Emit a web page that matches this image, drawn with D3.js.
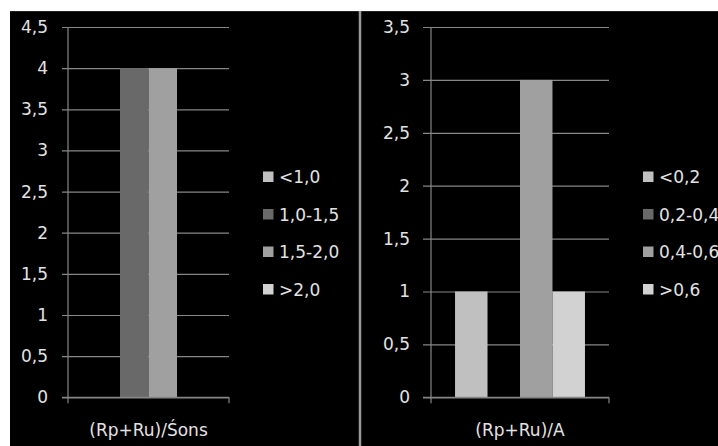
<!DOCTYPE html>
<html>
<head>
<meta charset="utf-8">
<script src="https://cdn.jsdelivr.net/npm/d3@7"></script>
<style>
  html, body { margin: 0; padding: 0; background: #fff; }
  svg { display: block; }
  text { font-family: "DejaVu Sans", sans-serif; fill: #e2e2e2; }
</style>
</head>
<body>
<svg id="chart" width="718" height="446"></svg>
<script>
// ---- data ----
const categoryLeft = ["(Rp+Ru)/Śons"];
const seriesLeft = ["<1,0", "1,0-1,5", "1,5-2,0", ">2,0"];
const valuesLeft = [0, 4, 4, 0];
const ticksLeft = [0, 0.5, 1, 1.5, 2, 2.5, 3, 3.5, 4, 4.5];

const categoryRight = ["(Rp+Ru)/A"];
const seriesRight = ["<0,2", "0,2-0,4", "0,4-0,6", ">0,6"];
const valuesRight = [1, 0, 3, 1];
const ticksRight = [0, 0.5, 1, 1.5, 2, 2.5, 3, 3.5];

const seriesColors = ["#c0c0c0", "#696969", "#a0a0a0", "#d2d2d2"];

// ---- drawing ----
const FONT = "17px";
const svg = d3.select("#chart");
svg.append("rect").attr("x", 10).attr("y", 11).attr("width", 708).attr("height", 435).attr("fill", "#000");
svg.append("line").attr("x1", 10).attr("x2", 718).attr("y1", 11.5).attr("y2", 11.5).attr("stroke", "#222");
// separator
svg.append("line").attr("x1", 360).attr("x2", 360).attr("y1", 11).attr("y2", 446)
  .attr("stroke", "#9a9a9a").attr("stroke-width", 2.5);

const fmt = v => String(v).replace(".", ",");

function drawPanel(cfg) {
  const g = svg.append("g");
  const y = d3.scaleLinear().domain([0, cfg.max]).range([397.3, 27]);
  const x0 = d3.scaleBand().domain(cfg.categories).range([cfg.axisX, cfg.right]).paddingOuter(cfg.outer).paddingInner(0);
  const x1 = d3.scaleBand().domain(cfg.series).range([0, x0.bandwidth()]);

  // gridlines + y labels
  const ax = d3.axisLeft(y).tickValues(cfg.ticks).tickFormat(fmt)
    .tickSizeInner(-(cfg.right - cfg.gridLeft)).tickSizeOuter(0).tickPadding(cfg.gridLeft - cfg.labelRight);
  const ag = g.append("g").attr("transform", `translate(${cfg.gridLeft},0)`).call(ax);
  ag.select(".domain").remove();
  ag.attr("font-family", null).attr("font-size", null);
  ag.selectAll(".tick line").attr("stroke", "#868686").attr("stroke-width", 1.2);
  ag.selectAll(".tick text").attr("fill", "#e2e2e2").style("font-size", FONT);

  // bars
  const cat = cfg.categories[0];
  g.append("g").selectAll("rect").data(cfg.series.map((s, i) => ({ s, v: cfg.values[i], i })))
    .join("rect")
    .attr("x", d => x0(cat) + x1(d.s))
    .attr("width", x1.bandwidth())
    .attr("y", d => y(d.v))
    .attr("height", d => y(0) - y(d.v))
    .attr("fill", d => seriesColors[d.i]);

  // y axis line
  g.append("line").attr("x1", cfg.axisX).attr("x2", cfg.axisX).attr("y1", y(cfg.max)).attr("y2", y(0))
    .attr("stroke", "#868686").attr("stroke-width", 1.2);
  // x axis line & ticks at band edges
  g.append("line").attr("x1", cfg.gridLeft).attr("x2", cfg.right).attr("y1", y(0)).attr("y2", y(0))
    .attr("stroke", "#868686").attr("stroke-width", 1.2);
  x0.range().forEach(px => {
    g.append("line").attr("x1", px).attr("x2", px).attr("y1", y(0)).attr("y2", y(0) + 6)
      .attr("stroke", "#868686").attr("stroke-width", 1.2);
  });
  // category label
  g.append("text").attr("x", x0(cat) + x0.bandwidth() / 2).attr("y", 436)
    .attr("text-anchor", "middle").style("font-size", FONT).text(cat);

  // legend
  const lg = g.append("g");
  cfg.series.forEach((s, i) => {
    const cy = 177 + i * 37.5;
    lg.append("rect").attr("x", cfg.legendX).attr("y", cy - 5.5).attr("width", 10.5).attr("height", 10.5)
      .attr("fill", seriesColors[i]);
    lg.append("text").attr("x", cfg.legendX + 16).attr("y", cy).attr("dy", "0.36em")
      .style("font-size", FONT).text(s);
  });
}

drawPanel({
  categories: categoryLeft, series: seriesLeft, values: valuesLeft, ticks: ticksLeft, max: 4.5,
  gridLeft: 62, axisX: 68, right: 229, outer: 0.206, labelRight: 48, legendX: 263
});
drawPanel({
  categories: categoryRight, series: seriesRight, values: valuesRight, ticks: ticksRight, max: 3.5,
  gridLeft: 423, axisX: 431, right: 609, outer: 0.185, labelRight: 410, legendX: 643
});
</script>
</body>
</html>
